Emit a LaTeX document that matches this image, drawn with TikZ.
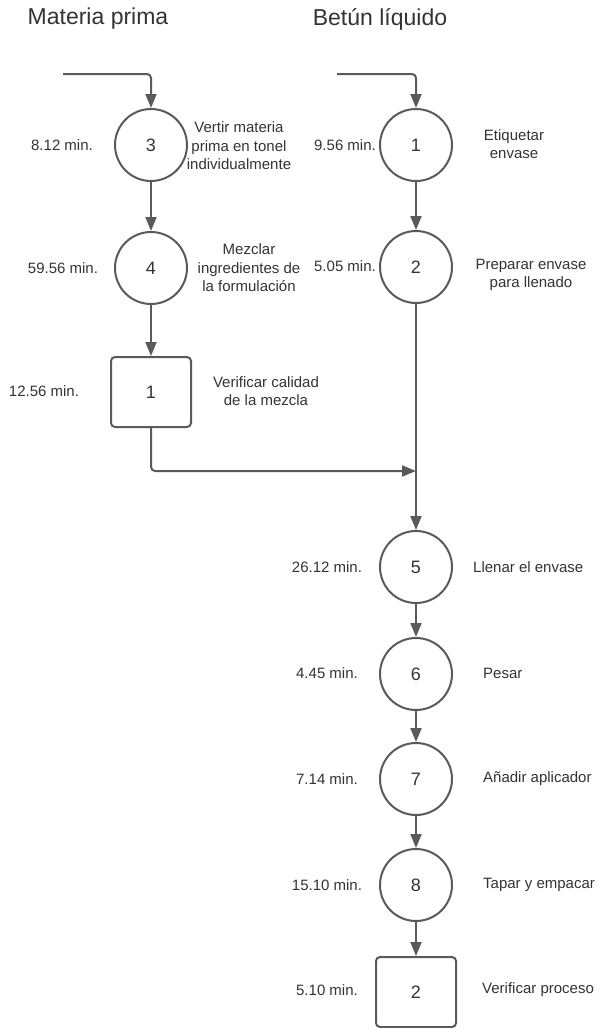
\documentclass[tikz,border=0pt]{standalone}
\usepackage{fontspec}
\setmainfont{Liberation Sans}
\usetikzlibrary{arrows.meta}
\definecolor{lc}{HTML}{5A5A5A}
\definecolor{tc}{HTML}{333333}
\begin{document}
\begin{tikzpicture}[x=1pt,y=-1pt,
  op/.style={circle,draw=lc,line width=2pt,minimum size=72pt,inner sep=0pt,text=tc,font=\fontsize{18}{20}\selectfont},
  insp/.style={rectangle,rounded corners=4pt,draw=lc,line width=2pt,minimum width=80pt,minimum height=70pt,inner sep=0pt,text=tc,font=\fontsize{18}{20}\selectfont},
  lbl/.style={text=tc,font=\fontsize{15}{18.5}\selectfont,align=center,inner sep=0pt},
  ttl/.style={text=tc,font=\fontsize{23}{25}\selectfont,inner sep=0pt},
  flow/.style={draw=lc,line width=2pt,-{Triangle[length=14pt,width=11pt]}},
  plain/.style={draw=lc,line width=2pt}]
\useasboundingbox (0,0) rectangle (600,1028);
% titles
\node[ttl] (tA) at (98,19) {Materia prima};
\node[ttl] (tB) at (380,19) {Betún líquido};
% left column
\coordinate (inA) at (63,74);
\coordinate (inB) at (337,74);
\node[op] (o3) at (151,145) {3};
\node[op] (o4) at (151,268) {4};
\node[insp] (i1) at (151,392) {1};
% right column
\node[op] (o1) at (416,145) {1};
\node[op] (o2) at (416,267) {2};
\coordinate (m) at (416,471);
\node[op] (o5) at (416,567) {5};
\node[op] (o6) at (416,674) {6};
\node[op] (o7) at (416,779) {7};
\node[op] (o8) at (416,885) {8};
\node[insp] (i2) at (416,992) {2};
% time labels
\node[lbl] (d3) at (62,145) {8.12 min.};
\node[lbl] (d4) at (63,268) {59.56 min.};
\node[lbl] (di1) at (44,391) {12.56 min.};
\node[lbl] (d1) at (345,145) {9.56 min.};
\node[lbl] (d2) at (345,266) {5.05 min.};
\node[lbl] (d5) at (327,567) {26.12 min.};
\node[lbl] (d6) at (327,673) {4.45 min.};
\node[lbl] (d7) at (327,779) {7.14 min.};
\node[lbl] (d8) at (327,885) {15.10 min.};
\node[lbl] (di2) at (327,990) {5.10 min.};
% descriptions
\node[lbl] (e3) at (239,146) {Vertir materia\\prima en tonel\\individualmente};
\node[lbl] (e4) at (249,268) {Mezclar\\ingredientes de\\la formulación};
\node[lbl] (ei1) at (266,391) {Verificar calidad\\de la mezcla};
\node[lbl] (e1) at (514,144) {Etiquetar\\envase};
\node[lbl] (e2) at (531,275) {Preparar envase\\para llenado};
\node[lbl,anchor=west] (e5) at (473,567) {Llenar el envase};
\node[lbl,anchor=west] (e6) at (483,673) {Pesar};
\node[lbl,anchor=west] (e7) at (483,779) {Añadir aplicador};
\node[lbl,anchor=west] (e8) at (483,885) {Tapar y empacar};
\node[lbl,anchor=west] (ei2) at (482,990) {Verificar proceso};
% connectors
\draw[flow,rounded corners=4pt] (inA) -| (o3.north);
\draw[flow,rounded corners=4pt] (inB) -| (o1.north);
\draw[flow] (o3) -- (o4);
\draw[flow] (o4) -- (i1);
\draw[flow] (o1) -- (o2);
\draw[flow,rounded corners=4pt] (i1.south) |- (m);
\draw[plain] (o2.south) -- (m);
\draw[flow] (m) -- (o5.north);
\draw[flow] (o5) -- (o6);
\draw[flow] (o6) -- (o7);
\draw[flow] (o7) -- (o8);
\draw[flow] (o8) -- (i2);
\end{tikzpicture}
\end{document}
